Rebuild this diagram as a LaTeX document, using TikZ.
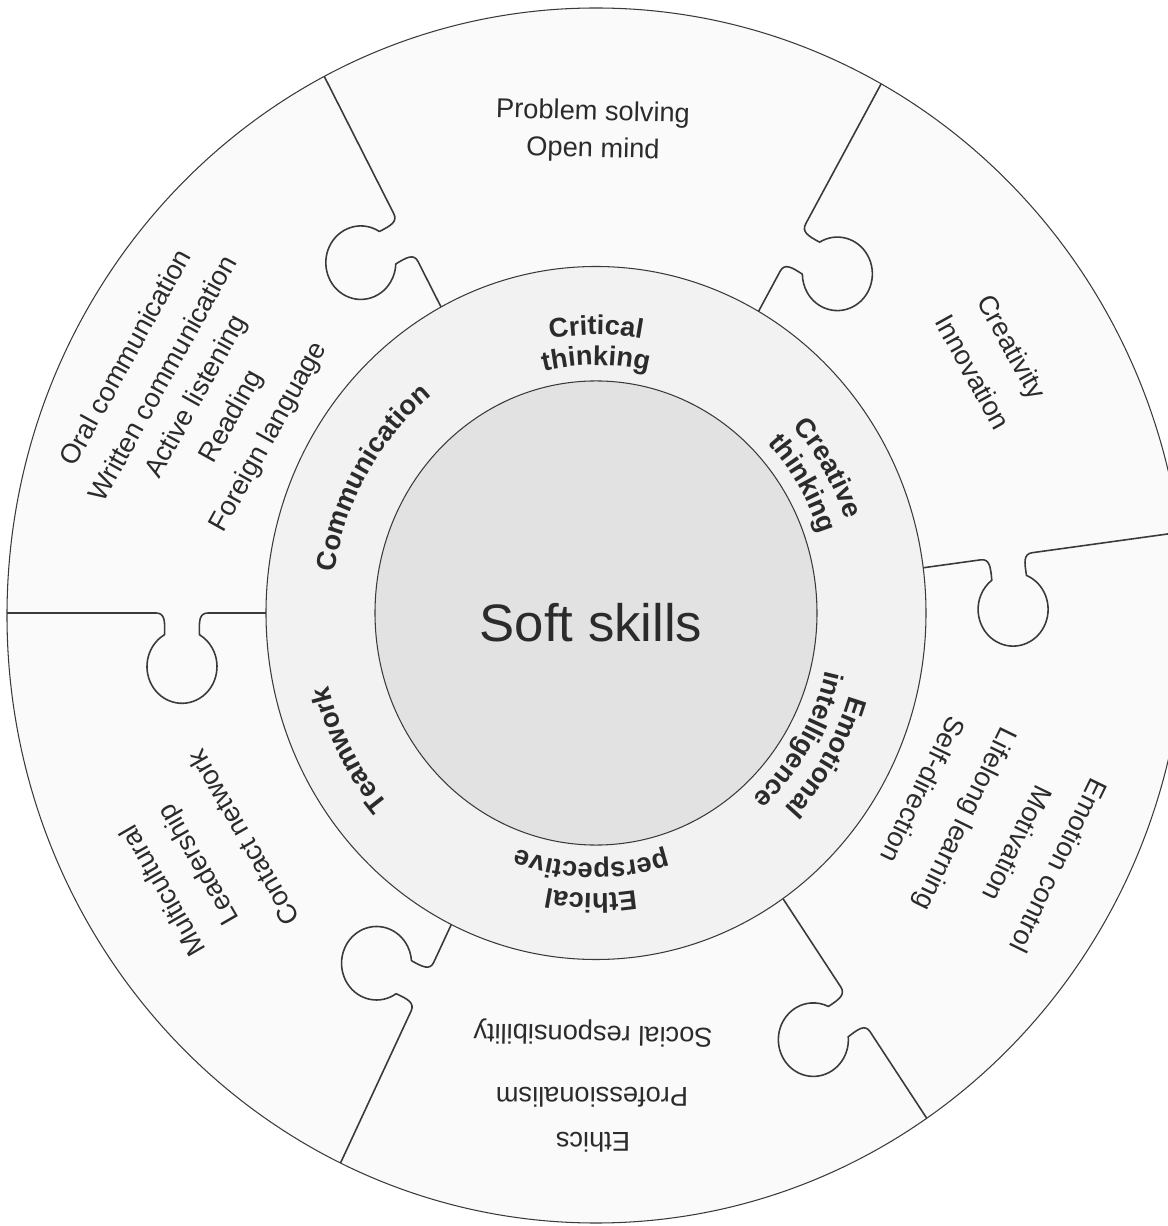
\documentclass[tikz,border=0pt]{standalone}
\usepackage{fontspec}
\setmainfont{Liberation Sans}
\usetikzlibrary{decorations.text}

\definecolor{inkgray}{HTML}{2B2B2B}
\definecolor{linegray}{HTML}{3A3A3A}
\definecolor{piecefill}{HTML}{FAFAFA}
\definecolor{ringfill}{HTML}{F2F2F2}
\definecolor{corefill}{HTML}{E2E2E2}

\tikzset{
  seam/.style={draw=linegray, line width=0.9pt, line join=round},
  rim/.style={draw=linegray, line width=0.6pt},
  skill/.style={font=\fontsize{15.5}{18}\selectfont, text=inkgray, inner sep=0pt},
}

\newcommand{\ringfont}{\fontsize{15.5}{18}\selectfont\bfseries}

% one puzzle cut: angle, side of the knob (1 or -1), radius of the knob
\newcommand{\puzzlecut}[3]{%
  \begin{scope}[rotate=#1, yscale=#2]
    \draw[seam] (640,0) -- (#3+26,0)
      .. controls (#3+17,0) and (#3+17,8) .. (#3+17.5,20.7)
      arc[start angle=-60, end angle=240, radius=35]
      .. controls (#3-17,8) and (#3-17,0) .. (#3-26,0) -- (315,0);
  \end{scope}}

% bold label bent along the ring: radius, middle angle, text
\newcommand{\ringlabel}[3]{%
  \path[decorate, decoration={text along path, text align=center,
    text color=inkgray, text={|\ringfont|#3}}]
    (#2+80:#1) arc[start angle=#2+80, end angle=#2-80, radius=#1];}

\begin{document}
\begin{tikzpicture}[x=0.02cm, y=0.02cm]
\useasboundingbox (-596,-613) rectangle (571,613);

% outer puzzle pieces
\fill[piecefill] (0,-2.5) ellipse[x radius=589, y radius=607.5];
\begin{scope}
  \clip (0,-2.5) ellipse[x radius=589, y radius=607.5];
  \begin{scope}[yscale=1.05]
    \puzzlecut{180}{1}{414}   % communication / teamwork
    \puzzlecut{118}{1}{405}   % communication / critical
    \puzzlecut{60.5}{-1}{400} % critical / creative
    \puzzlecut{7.5}{-1}{414}  % creative / emotional
    \puzzlecut{-55.5}{-1}{458} % emotional / ethical
    \puzzlecut{-116}{-1}{396} % ethical / teamwork
  \end{scope}
\end{scope}
\draw[rim] (0,-2.5) ellipse[x radius=589, y radius=607.5];

% middle ring and core
\begin{scope}[yscale=1.05]
  \draw[rim, fill=ringfill] (0,0) circle[radius=330];
  \draw[rim, fill=corefill] (0,0) circle[radius=221];

  \ringlabel{265}{90}{Critical}
  \ringlabel{236}{90}{thinking}
  \ringlabel{265}{32}{Creative}
  \ringlabel{236}{32}{thinking}
  \ringlabel{265}{-32}{Emotional}
  \ringlabel{236}{-32}{intelligence}
  \ringlabel{267}{-91}{Ethical}
  \ringlabel{238}{-91}{perspective}
  \ringlabel{276}{-151}{Teamwork}
  \ringlabel{264}{149}{Communication}
\end{scope}

\node[font=\fontsize{30}{36}\selectfont, text=inkgray] (core) at (-5,-10) {Soft skills};

% critical thinking piece
\node[skill, rotate=-1.5] (solving) at (-3,500) {Problem solving};
\node[skill, rotate=-1.5] (openmind) at (-3,463) {Open mind};

% creative thinking piece
\node[skill, rotate=-61] (creativity) at (414,265) {Creativity};
\node[skill, rotate=-61] (innovation) at (377,241) {Innovation};

% emotional intelligence piece
\node[skill, rotate=-116] (emotion) at (463,-253) {Emotion control};
\node[skill, rotate=-116] (motivation) at (422,-231) {Motivation};
\node[skill, rotate=-116] (lifelong) at (368,-205) {Lifelong learning};
\node[skill, rotate=-116] (selfdir) at (327,-177) {Self-direction};

% ethical perspective piece
\node[skill, rotate=179] (social) at (-3,-420) {Social responsibility};
\node[skill, rotate=180] (profess) at (-4,-484) {Professionalism};
\node[skill, rotate=180] (ethics) at (-3,-529) {Ethics};

% teamwork piece
\node[skill, rotate=120] (contact) at (-353,-225) {Contact network};
\node[skill, rotate=120] (leader) at (-396,-251) {Leadership};
\node[skill, rotate=120] (multi) at (-434,-278) {Multicultural};

% communication piece
\node[skill, rotate=61] (oral) at (-471,256) {Oral communication};
\node[skill, rotate=61] (written) at (-434,235) {Written communication};
\node[skill, rotate=61] (active) at (-399,216) {Active listening};
\node[skill, rotate=61] (reading) at (-364,196) {Reading};
\node[skill, rotate=61] (foreign) at (-327,176) {Foreign language};
\end{tikzpicture}
\end{document}
